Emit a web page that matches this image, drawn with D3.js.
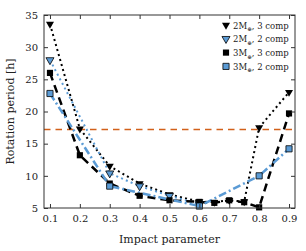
<!DOCTYPE html>
<html><head><meta charset="utf-8">
<script src="https://cdn.jsdelivr.net/npm/d3@7"></script>
<style>body{margin:0;background:#fff}svg{display:block}text{font-family:"DejaVu Serif",serif}</style>
</head><body><svg id="c" width="306" height="251"></svg>
<script>
const xTicks=[0.1,0.2,0.3,0.4,0.5,0.6,0.7,0.8,0.9];
const yTicks=[5,10,15,20,25,30,35];
const threshold=17.2;
const x2M3=[0.1,0.2,0.3,0.4,0.5,0.6,0.65,0.7,0.75,0.8,0.9];
const y2M3=[33.6,17.3,11.5,8.8,7.1,6.0,5.9,6.2,6.0,17.5,23.0];
const x2M2=[0.1,0.3,0.4,0.5,0.6];
const y2M2=[28.0,10.4,8.4,6.9,5.6];
const x3M3=[0.1,0.2,0.3,0.4,0.5,0.6,0.65,0.7,0.75,0.8,0.9];
const y3M3=[26.0,13.2,8.8,6.9,6.2,5.95,5.8,6.2,5.9,5.1,19.7];
const x3M2=[0.1,0.3,0.6,0.8,0.9];
const y3M2=[22.8,8.4,5.3,10.0,14.2];
const labels=["3 comp","2 comp","3 comp","2 comp"];
const masses=["2","2","3","3"];

const svg=d3.select("#c");
const L=44,R=295,T=15,B=208;
const x=d3.scaleLinear().domain([0.08,0.92]).range([L,R]);
const y=d3.scaleLinear().domain([5,35]).range([B,T]);
const blue="#5b9bd5";

const series=[
 {xs:x2M3,ys:y2M3,stroke:"#000",dash:"2,3.2",w:2,sym:d3.symbolTriangle,fill:"#000"},
 {xs:x2M2,ys:y2M2,stroke:blue,dash:"2,3.2",w:2,sym:d3.symbolTriangle,fill:blue},
 {xs:x3M3,ys:y3M3,stroke:"#000",dash:"8,5",w:2.5,sym:d3.symbolSquare,fill:"#000"},
 {xs:x3M2,ys:y3M2,stroke:blue,dash:"8,3,2,3",w:2.5,sym:d3.symbolSquare,fill:blue}
];

svg.append("defs").append("clipPath").attr("id","cp").append("rect")
 .attr("x",L).attr("y",T).attr("width",R-L).attr("height",B-T);

const g=svg.append("g").attr("clip-path","url(#cp)");
g.append("line").attr("x1",L).attr("x2",R).attr("y1",y(threshold)).attr("y2",y(threshold))
 .attr("stroke","#d2601a").attr("stroke-width",1.5).attr("stroke-dasharray","6.5,5");

const line=d3.line().x(d=>x(d[0])).y(d=>y(d[1]));
function mark(sel,s,px,py){
  const isTri=s.sym===d3.symbolTriangle;
  sel.append("path").attr("d",d3.symbol().type(s.sym).size(isTri?28:38)())
   .attr("transform",`translate(${px},${py})`+(isTri?" rotate(180)":""))
   .attr("fill",s.fill).attr("stroke","#000").attr("stroke-width",s.fill==="#000"?0:0.8);
}
series.forEach(s=>{
  const pts=s.xs.map((v,i)=>[v,s.ys[i]]);
  g.append("path").datum(pts).attr("d",line).attr("fill","none")
   .attr("stroke",s.stroke).attr("stroke-width",s.w).attr("stroke-dasharray",s.dash);
  pts.forEach(p=>mark(svg,s,x(p[0]),y(p[1])));
});

svg.append("rect").attr("x",L).attr("y",T).attr("width",R-L).attr("height",B-T)
 .attr("fill","none").attr("stroke","#333").attr("stroke-width",1);

const fs=10;
const ax=d3.axisBottom(x).tickValues(xTicks).tickFormat(d3.format(".1f")).tickSizeInner(-4).tickSizeOuter(0).tickPadding(7);
const gx=svg.append("g").attr("transform",`translate(0,${B})`).call(ax);
const axT=d3.axisTop(x).tickValues(xTicks).tickFormat("").tickSizeInner(-4).tickSizeOuter(0);
const gxt=svg.append("g").attr("transform",`translate(0,${T})`).call(axT);
const ay=d3.axisLeft(y).tickValues(yTicks).tickSizeInner(-4).tickSizeOuter(0).tickPadding(6);
const gy=svg.append("g").attr("transform",`translate(${L},0)`).call(ay);
const ayR=d3.axisRight(y).tickValues(yTicks).tickFormat("").tickSizeInner(-4).tickSizeOuter(0);
const gyr=svg.append("g").attr("transform",`translate(${R},0)`).call(ayR);
[gx,gxt,gy,gyr].forEach(a=>{a.select(".domain").remove();a.selectAll("line").attr("stroke","#333");
 a.selectAll("text").attr("font-family","DejaVu Serif").attr("font-size",fs).attr("fill","#222");});

svg.append("text").attr("x",(L+R)/2).attr("y",243).attr("text-anchor","middle")
 .attr("font-size",11).attr("fill","#222").text("Impact parameter");
svg.append("text").attr("transform",`translate(14,${(T+B)/2}) rotate(-90)`).attr("text-anchor","middle")
 .attr("font-size",11).attr("fill","#222").text("Rotation period [h]");

const lg=svg.append("g");
series.forEach((s,i)=>{
  const yy=25+i*13.8;
  mark(lg,s,226,yy);
  const t=lg.append("text").attr("x",233).attr("y",yy+3.5).attr("font-size",8.5).attr("fill","#222");
  t.append("tspan").text(masses[i]+"M");
  t.append("tspan").attr("dy",2.5).attr("font-size",5.5).text("\u2295");
  t.append("tspan").attr("dy",-2.5).text(", "+labels[i]);
});
</script></body></html>
